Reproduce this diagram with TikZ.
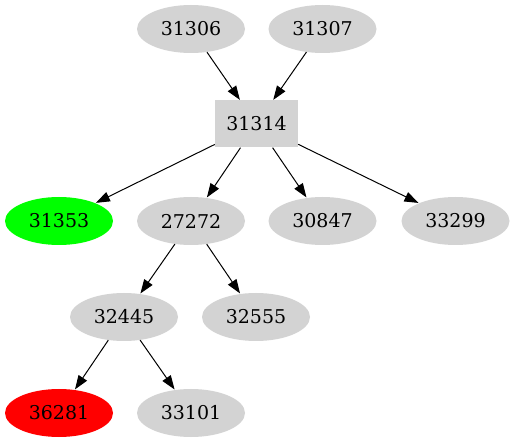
\documentclass[tikz,border=0pt]{standalone}
\usepackage{fontspec}
\setmainfont{DejaVu Serif}
\usetikzlibrary{arrows.meta}
\definecolor{lgray}{HTML}{D3D3D3}
\definecolor{gvgreen}{HTML}{00FF00}
\definecolor{gvred}{HTML}{FF0000}
\tikzset{
  ell/.style={ellipse, fill=lgray, minimum width=108pt, minimum height=48pt, inner sep=0pt, font=\fontsize{19}{20}\selectfont},
  boxnode/.style={rectangle, fill=lgray, minimum width=83pt, minimum height=47pt, inner sep=0pt, font=\fontsize{19}{20}\selectfont},
  edge/.style={draw=black, line width=1pt, -{Triangle[length=14pt,width=10pt]}, shorten >=0.5pt}
}
\usetikzlibrary{shapes.geometric}
\begin{document}
\begin{tikzpicture}[x=1pt,y=-1pt]
\useasboundingbox (0,0) rectangle (514,443);
\node[ell] (n31306) at (191,29) {31306};
\node[ell] (n31307) at (322.5,29) {31307};
\node[boxnode] (n31314) at (256.5,124) {31314};
\node[ell, fill=gvgreen] (n31353) at (59,221) {31353};
\node[ell] (n27272) at (191,221) {27272};
\node[ell] (n30847) at (322.5,221) {30847};
\node[ell] (n33299) at (455.5,221) {33299};
\node[ell] (n32445) at (124,317) {32445};
\node[ell] (n32555) at (256,317) {32555};
\node[ell, fill=gvred] (n36281) at (59,413) {36281};
\node[ell] (n33101) at (191,413) {33101};
\draw[edge] (n31306) -- (n31314);
\draw[edge] (n31307) -- (n31314);
\draw[edge] (n31314) -- (n31353);
\draw[edge] (n31314) -- (n27272);
\draw[edge] (n31314) -- (n30847);
\draw[edge] (n31314) -- (n33299);
\draw[edge] (n27272) -- (n32445);
\draw[edge] (n27272) -- (n32555);
\draw[edge] (n32445) -- (n36281);
\draw[edge] (n32445) -- (n33101);
\end{tikzpicture}
\end{document}
